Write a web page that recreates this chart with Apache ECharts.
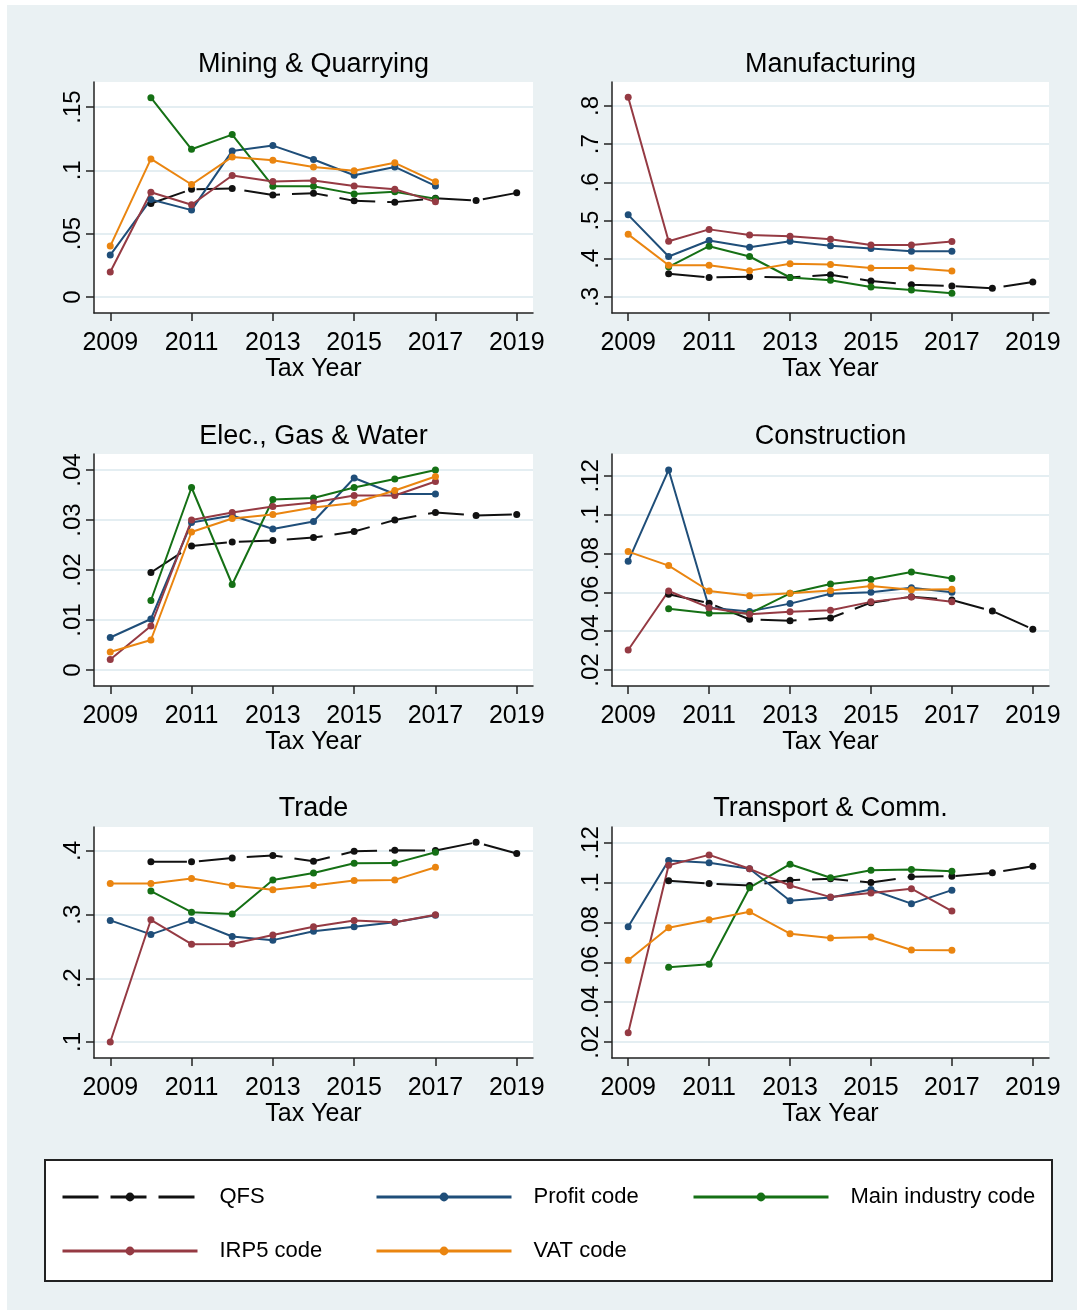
<!DOCTYPE html>
<html>
<head>
<meta charset="utf-8">
<title>Tax Year by industry</title>
<script src="https://cdn.jsdelivr.net/npm/echarts@6/dist/echarts.min.js"></script>
<style>
    html, body {margin: 0; padding: 0; background: #fff;}
    #main {position: absolute; left: 7px; top: 5px; width: 1070px; height: 1305px;}
</style>
</head>
<body>
<div id="main"></div>
<script>
// years on the x axis
var years = [2009, 2010, 2011, 2012, 2013, 2014, 2015, 2016, 2017, 2018, 2019];
var xTicks = [2009, 2011, 2013, 2015, 2017, 2019];

// Mining & Quarrying
var miningQFS    = [null, 0.0738, 0.085, 0.0856, 0.0806, 0.082, 0.0759, 0.0749, 0.078, 0.0762, 0.0822];
var miningProfit = [0.0331, 0.077, 0.0686, 0.1153, 0.1195, 0.1085, 0.0961, 0.1027, 0.0877, null, null];
var miningMain   = [null, 0.1573, 0.1166, 0.1282, 0.0875, 0.0875, 0.0814, 0.083, 0.0775, null, null];
var miningIRP5   = [0.0197, 0.0827, 0.0728, 0.0959, 0.0911, 0.0919, 0.0877, 0.0851, 0.0751, null, null];
var miningVAT    = [0.0402, 0.109, 0.0888, 0.1106, 0.108, 0.1027, 0.0996, 0.1059, 0.0909, null, null];
var miningTicks  = [0, 0.05, 0.1, 0.15];

// Manufacturing
var manufQFS    = [null, 0.361, 0.351, 0.353, 0.351, 0.358, 0.342, 0.332, 0.329, 0.323, 0.339];
var manufProfit = [0.515, 0.406, 0.448, 0.430, 0.446, 0.434, 0.427, 0.420, 0.420, null, null];
var manufMain   = [null, 0.379, 0.433, 0.406, 0.351, 0.344, 0.326, 0.318, 0.310, null, null];
var manufIRP5   = [0.823, 0.446, 0.477, 0.462, 0.459, 0.451, 0.436, 0.436, 0.445, null, null];
var manufVAT    = [0.464, 0.383, 0.383, 0.369, 0.387, 0.385, 0.376, 0.376, 0.368, null, null];
var manufTicks  = [0.3, 0.4, 0.5, 0.6, 0.7, 0.8];

// Elec., Gas & Water
var elecQFS    = [null, 0.0195, 0.0248, 0.0256, 0.0259, 0.0265, 0.0277, 0.030, 0.0315, 0.0309, 0.0311];
var elecProfit = [0.0065, 0.0102, 0.0295, 0.0309, 0.0282, 0.0297, 0.0384, 0.0352, 0.0352, null, null];
var elecMain   = [null, 0.0139, 0.0365, 0.0171, 0.0341, 0.0344, 0.0365, 0.0382, 0.040, null, null];
var elecIRP5   = [0.0021, 0.0088, 0.030, 0.0315, 0.0327, 0.0335, 0.0349, 0.0349, 0.0377, null, null];
var elecVAT    = [0.0036, 0.006, 0.0276, 0.0303, 0.0311, 0.0325, 0.0334, 0.0359, 0.0387, null, null];
var elecTicks  = [0, 0.01, 0.02, 0.03, 0.04];

// Construction
var constrQFS    = [null, 0.059, 0.0544, 0.0461, 0.0454, 0.0468, 0.0547, 0.0578, 0.0561, 0.0504, 0.041];
var constrProfit = [0.076, 0.1231, 0.0521, 0.0502, 0.0542, 0.0593, 0.060, 0.0624, 0.060, null, null];
var constrMain   = [null, 0.0516, 0.0492, 0.0492, 0.0595, 0.0643, 0.0666, 0.0705, 0.0671, null, null];
var constrIRP5   = [0.0303, 0.0607, 0.0521, 0.0487, 0.050, 0.0508, 0.0551, 0.0576, 0.0552, null, null];
var constrVAT    = [0.081, 0.0738, 0.0607, 0.0583, 0.0595, 0.0609, 0.0633, 0.0614, 0.0616, null, null];
var constrTicks  = [0.02, 0.04, 0.06, 0.08, 0.1, 0.12];

// Trade
var tradeQFS    = [null, 0.383, 0.383, 0.389, 0.393, 0.384, 0.3995, 0.401, 0.4006, 0.4136, 0.396];
var tradeProfit = [0.291, 0.269, 0.291, 0.2657, 0.26, 0.274, 0.281, 0.288, 0.299, null, null];
var tradeMain   = [null, 0.337, 0.304, 0.301, 0.3546, 0.3656, 0.3807, 0.381, 0.398, null, null];
var tradeIRP5   = [0.10, 0.292, 0.2537, 0.254, 0.268, 0.281, 0.291, 0.288, 0.300, null, null];
var tradeVAT    = [0.349, 0.349, 0.3567, 0.346, 0.339, 0.346, 0.3535, 0.3546, 0.3744, null, null];
var tradeTicks  = [0.1, 0.2, 0.3, 0.4];

// Transport & Comm.
var transQFS    = [null, 0.101, 0.0996, 0.0986, 0.1013, 0.102, 0.1001, 0.103, 0.1033, 0.105, 0.1083];
var transProfit = [0.0779, 0.1112, 0.110, 0.107, 0.091, 0.0926, 0.0966, 0.0895, 0.0963, null, null];
var transMain   = [null, 0.0576, 0.0591, 0.0975, 0.1093, 0.1025, 0.1063, 0.1066, 0.1058, null, null];
var transIRP5   = [0.0247, 0.1088, 0.114, 0.107, 0.0986, 0.0928, 0.0948, 0.097, 0.0858, null, null];
var transVAT    = [0.0611, 0.0774, 0.0814, 0.0854, 0.0744, 0.0723, 0.0728, 0.0662, 0.0661, null, null];
var transTicks  = [0.02, 0.04, 0.06, 0.08, 0.1, 0.12];

var seriesNames = ['QFS', 'Profit code', 'Main industry code', 'IRP5 code', 'VAT code'];
var seriesColors = ['#111111', '#1f4e79', '#157015', '#953a43', '#ea8510'];

(function () {
    var font = 'Liberation Sans, Arial, Helvetica, sans-serif';

    var panels = [
        {title: 'Mining & Quarrying', lines: [miningQFS, miningProfit, miningMain, miningIRP5, miningVAT], ticks: miningTicks, min: -0.0126, max: 0.1697},
        {title: 'Manufacturing', lines: [manufQFS, manufProfit, manufMain, manufIRP5, manufVAT], ticks: manufTicks, min: 0.2581, max: 0.8628},
        {title: 'Elec., Gas & Water', lines: [elecQFS, elecProfit, elecMain, elecIRP5, elecVAT], ticks: elecTicks, min: -0.0032, max: 0.0432},
        {title: 'Construction', lines: [constrQFS, constrProfit, constrMain, constrIRP5, constrVAT], ticks: constrTicks, min: 0.01175, max: 0.1313},
        {title: 'Trade', lines: [tradeQFS, tradeProfit, tradeMain, tradeIRP5, tradeVAT], ticks: tradeTicks, min: 0.0749, max: 0.4377},
        {title: 'Transport & Comm.', lines: [transQFS, transProfit, transMain, transIRP5, transVAT], ticks: transTicks, min: 0.012, max: 0.128}
    ];

    /*grid placement, in px*/
    var colLeft = [87, 605];
    var colWidth = [439, 437];
    var rowTop = [77, 449, 822];
    var rowHeight = [231, 232, 231];
    var titleTop = [46, 418, 790];

    var grids = [], xAxes = [], yAxes = [], titles = [], series = [];

    // strip the leading zero like Stata does
    function yFmt(v) {
        if (v === 0) return '0';
        return String(+v.toFixed(3)).replace(/^0\./, '.');
    }

    panels.forEach(function (p, i) {
        var c = i % 2, r = Math.floor(i / 2);
        grids.push({
            left: colLeft[c], top: rowTop[r], width: colWidth[c], height: rowHeight[r],
            show: true, backgroundColor: '#ffffff', borderWidth: 0
        });
        titles.push({
            text: p.title,
            left: colLeft[c] + colWidth[c] / 2,
            textAlign: 'center',
            top: titleTop[r],
            padding: 0,
            textStyle: {fontFamily: font, fontSize: 27, fontWeight: 'normal', color: '#000'}
        });
        xAxes.push({
            type: 'value', gridIndex: i, min: 2008.6, max: 2019.4,
            name: 'Tax Year', nameLocation: 'middle', nameGap: 44,
            nameTextStyle: {fontFamily: font, fontSize: 25, color: '#000'},
            axisLine: {show: true, onZero: false, lineStyle: {color: '#222', width: 1.5}},
            axisTick: {show: true, length: 8, customValues: xTicks, lineStyle: {color: '#222', width: 1.5}},
            axisLabel: {
                customValues: xTicks, fontFamily: font, fontSize: 25, color: '#000', margin: 18,
                formatter: function (v) { return String(v); }
            },
            splitLine: {show: false}
        });
        yAxes.push({
            type: 'value', gridIndex: i, min: p.min, max: p.max,
            axisLine: {show: true, onZero: false, lineStyle: {color: '#222', width: 1.5}},
            axisTick: {show: true, length: 8, customValues: p.ticks, lineStyle: {color: '#222', width: 1.5}},
            axisLabel: {
                customValues: p.ticks, rotate: 90, fontFamily: font, fontSize: 24, color: '#000', margin: 9,
                formatter: yFmt
            },
            splitLine: {show: true, lineStyle: {color: '#e4eef2', width: 2}}
        });
        p.lines.forEach(function (vals, k) {
            var data = [];
            for (var j = 0; j < years.length; j++) {
                if (vals[j] !== null) data.push([years[j], vals[j]]);
            }
            series.push({
                name: seriesNames[k],
                type: 'line',
                xAxisIndex: i, yAxisIndex: i,
                data: data,
                symbol: 'circle', symbolSize: 7, showSymbol: true,
                lineStyle: {color: seriesColors[k], width: 2, type: k === 0 ? [36, 12] : 'solid'},
                itemStyle: {color: seriesColors[k]},
                emphasis: {disabled: true}
            });
        });
    });

    /*legend, one component per entry so it sits on a fixed grid*/
    var legendPos = [[54, 1181], [368, 1181], [685, 1181], [54, 1235], [368, 1235]];
    var legends = seriesNames.map(function (n, k) {
        return {
            data: [n], left: legendPos[k][0], top: legendPos[k][1],
            orient: 'horizontal', padding: 0,
            itemWidth: 135, itemHeight: 11,
            selectedMode: false,
            lineStyle: {width: 3},
            textStyle: {fontFamily: font, fontSize: 22, color: '#000', padding: [0, 0, 0, 17]}
        };
    });

    var myChart = echarts.init(document.getElementById('main'));
    var option = {
        backgroundColor: '#eaf1f3',
        animation: false,
        title: titles,
        grid: grids,
        xAxis: xAxes,
        yAxis: yAxes,
        legend: legends,
        graphic: [{
            type: 'rect', z: -1,
            shape: {x: 38, y: 1155, width: 1007, height: 121},
            style: {fill: '#ffffff', stroke: '#222', lineWidth: 2}
        }],
        series: series
    };
    myChart.setOption(option);
})();
</script>
</body>
</html>
